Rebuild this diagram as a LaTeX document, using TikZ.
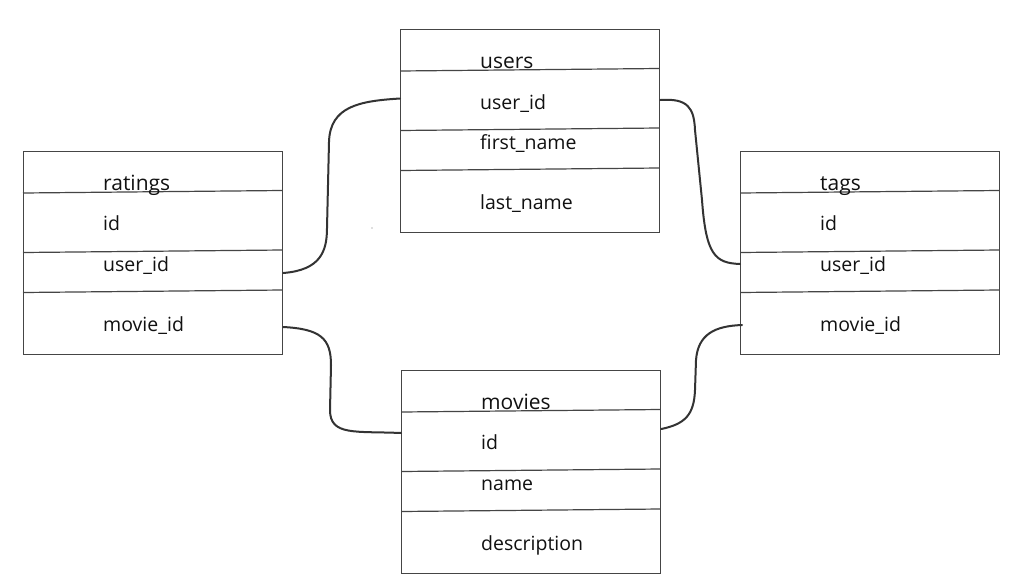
\documentclass[tikz,border=0pt]{standalone}
\usepackage{fontspec}
\setmainfont{Open Sans}
\definecolor{boxgray}{HTML}{454545}
\definecolor{linkgray}{HTML}{333333}
\definecolor{txt}{HTML}{111111}
\begin{document}
\begin{tikzpicture}[x=1pt,y=-1pt,
  frame/.style={draw=boxgray, line width=1.3pt, minimum width=259pt, minimum height=203pt, anchor=north west, inner sep=0pt},
  divider/.style={draw=boxgray, line width=1.2pt},
  field/.style={anchor=base west, inner sep=0pt, text=txt, font=\fontsize{19.5}{20}\selectfont},
  title/.style={field, font=\fontsize{21}{22}\selectfont},
  link/.style={draw=linkgray, line width=2pt, line cap=round, line join=round}]
\useasboundingbox (0,0) rectangle (1027,576);
\fill[white] (0,0) rectangle (1027,576);

% users
\begin{scope}[shift={(400,28.5)}]
  \node[frame] (users) at (0,0) {};
  \draw[divider] (0,42.5) -- (259,40);
  \draw[divider] (0,102) -- (259,99.5);
  \draw[divider] (0,142) -- (259,139.5);
  \node[title] (users-t) at (80,40) {users};
  \node[field] (users-a) at (80,81) {user\_id};
  \node[field] (users-b) at (80,121) {first\_name};
  \node[field] (users-c) at (80,181) {last\_name};
\end{scope}

% ratings
\begin{scope}[shift={(23,150.5)}]
  \node[frame] (ratings) at (0,0) {};
  \draw[divider] (0,42.5) -- (259,40);
  \draw[divider] (0,102) -- (259,99.5);
  \draw[divider] (0,142) -- (259,139.5);
  \node[title] (ratings-t) at (80,40) {ratings};
  \node[field] (ratings-a) at (80,80) {id};
  \node[field] (ratings-b) at (80,121) {user\_id};
  \node[field] (ratings-c) at (80,181) {movie\_id};
\end{scope}

% tags
\begin{scope}[shift={(740,150.5)}]
  \node[frame] (tags) at (0,0) {};
  \draw[divider] (0,42.5) -- (259,40);
  \draw[divider] (0,102) -- (259,99.5);
  \draw[divider] (0,142) -- (259,139.5);
  \node[title] (tags-t) at (80,40) {tags};
  \node[field] (tags-a) at (80,80) {id};
  \node[field] (tags-b) at (80,121) {user\_id};
  \node[field] (tags-c) at (80,181) {movie\_id};
\end{scope}

% movies
\begin{scope}[shift={(401,369.5)}]
  \node[frame] (movies) at (0,0) {};
  \draw[divider] (0,42.5) -- (259,40);
  \draw[divider] (0,102) -- (259,99.5);
  \draw[divider] (0,142) -- (259,139.5);
  \node[title] (movies-t) at (80,40) {movies};
  \node[field] (movies-a) at (80,80) {id};
  \node[field] (movies-b) at (80,121) {name};
  \node[field] (movies-c) at (80,181) {description};
\end{scope}

% connector end points
\coordinate (r-uid) at (ratings.east |- 0,273);
\coordinate (r-mid) at (ratings.east |- 0,327);
\coordinate (u-uid-l) at (users.west |- 0,98.5);
\coordinate (u-uid-r) at (users.east |- 0,100);
\coordinate (t-uid) at (tags.west |- 0,264);
\coordinate (t-mid) at (742,325);
\coordinate (m-id-l) at (movies.west |- 0,433);
\coordinate (m-id-r) at (movies.east |- 0,429);

\draw[link] (r-uid) .. controls (320,270) and (327,252) .. (327,228)
  -- (329,142) .. controls (330,106) and (360,101) .. (u-uid-l);
\draw[link] (r-mid) .. controls (320,329) and (331,338) .. (331,365)
  -- (330,410) .. controls (330,436) and (355,431) .. (m-id-l);
\draw[link] (u-uid-r) .. controls (688,98) and (694,108) .. (695,130)
  -- (702,200) .. controls (706,255) and (715,263) .. (t-uid);
\draw[link] (m-id-r) .. controls (685,424) and (694,415) .. (695,390)
  -- (696,360) .. controls (698,334) and (715,326) .. (t-mid);

\fill[gray!50] (372,228) circle (0.8);
\end{tikzpicture}
\end{document}
